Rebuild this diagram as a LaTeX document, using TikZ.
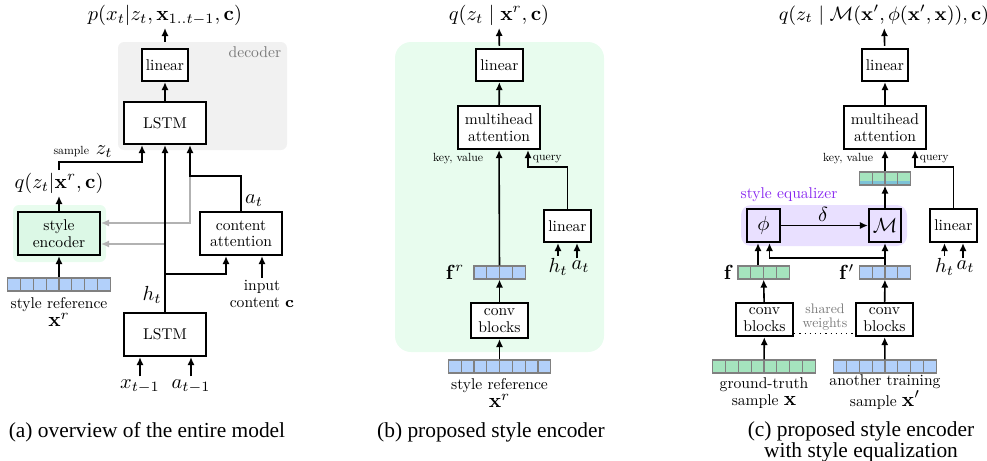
\RequirePackage{fix-cm}
\documentclass[tikz,border=0pt]{standalone}
\usepackage{amsmath,amssymb}
\usepackage[no-math]{fontspec}
\setmainfont{lmroman10-regular}[Extension=.otf, BoldFont=lmroman10-bold, ItalicFont=lmroman10-italic]
\newfontfamily\capfont{Liberation Serif}
\usetikzlibrary{arrows.meta}
\usetikzlibrary{calc}

\definecolor{cellblue}{RGB}{178,208,250}
\definecolor{cellgreen}{RGB}{165,228,190}
\definecolor{stripe}{RGB}{125,195,215}
\definecolor{cellgray}{RGB}{128,128,128}
\definecolor{decgray}{RGB}{241,241,241}
\definecolor{dectext}{RGB}{120,120,120}
\definecolor{encgreen}{RGB}{232,252,238}
\definecolor{encbox}{RGB}{220,248,230}
\definecolor{eqpurple}{RGB}{233,224,255}
\definecolor{eqtext}{RGB}{136,40,240}
\definecolor{arrgray}{RGB}{178,178,178}

\newcommand{\txtsz}{\fontsize{7.8}{8.2}\selectfont}
\newcommand{\mathsz}{\fontsize{10.2}{11}\selectfont}
\newcommand{\smallsz}{\fontsize{5.9}{7}\selectfont}
\newcommand{\cellrules}[1]{\foreach \k in {1,...,#1}{\draw[cellgray, line width=0.6pt]
  ([xshift=\k*6.4pt]path picture bounding box.south west) --
  ([xshift=\k*6.4pt]path picture bounding box.north west);}}

\begin{document}
\begin{tikzpicture}[x=0.5pt, y=-0.5pt, >={Latex[length=4pt,width=3.6pt]}, line width=0.8pt,
    block/.style={draw, line width=1.1pt, fill=white, align=center, inner sep=0pt, font=\txtsz},
    lbl/.style={inner sep=1pt, font=\mathsz},
    txt/.style={inner sep=1pt, align=center, font=\txtsz},
    note/.style={inner sep=1pt, font=\smallsz},
    vec/.style={draw=cellgray, line width=0.6pt, inner sep=0pt, minimum height=6.5pt,
                minimum width=#1*6.4pt, path picture={\cellrules{#1}}},
    garr/.style={->, draw=arrgray, line width=0.7pt},
    captext/.style={align=center, font=\capfont\fontsize{10.7}{9.6}\selectfont}]
\useasboundingbox (0,0) rectangle (987,461);

% (a) overview of the whole model
\fill[decgray, rounded corners=3pt] (118,42) rectangle (287,150);
\fill[encgreen, rounded corners=3pt] (13,205) rectangle (106,262);
\node[txt, text=dectext, anchor=east] (decA) at (284,52) {decoder};

\node[block, minimum width=23pt, minimum height=16pt] (linA) at (165,65) {linear};
\node[block, minimum width=41pt, minimum height=21pt] (lstmTop) at (165,123) {LSTM};
\node[block, minimum width=41pt, minimum height=21.5pt] (lstmBot) at (165,334.5) {LSTM};
\node[block, fill=encbox, minimum width=41pt, minimum height=21.5pt] (styEnc) at (59,233.5) {style\\encoder};
\node[block, minimum width=41pt, minimum height=21.5pt] (cntAtt) at (241,233.5) {content\\attention};
\node[vec=8, fill=cellblue] (xrA) at (59,284.5) {};

\node[lbl] (pA) at (165,15) {$p(x_t|z_t,\mathbf{x}_{1..t-1},\mathbf{c})$};
\node[lbl] (qA) at (59,183) {$q(z_t|\mathbf{x}^r,\mathbf{c})$};
\node[lbl] (zA) at (83,152) {{\smallsz sample} $z_t$};
\node[lbl] (htA) at (152,295) {$h_t$};
\node[lbl] (atA) at (254,201) {$a_t$};
\node[txt] (cA) at (262,294) {input\\content $\mathbf{c}$};
\node[txt] (refA) at (59,312) {style reference\\{\mathsz$\mathbf{x}^r$}};
\node[lbl] (xtA) at (140,386) {$x_{t-1}$};
\node[lbl] (atmA) at (191,386) {$a_{t-1}$};

\coordinate (jA) at (190,176);
\coordinate (hA) at (165,244);
\coordinate (bA) at (165,274);
\coordinate (zC) at (142,162);

\draw[garr] (jA) |- ([yshift=5.25pt]styEnc.east);
\draw[garr] (hA) -- (styEnc.east |- hA);

\draw[->, shorten <=3pt] (linA) -- (pA);
\draw[->] (lstmTop) -- (linA);
\draw[->] (lstmBot) -- (lstmTop);
\draw[->] (qA) |- (zC) -- (zC |- lstmTop.south);
\draw[->] (styEnc) -- (qA);
\draw[->] (xrA) -- (styEnc);
\draw[->] (cntAtt.north) |- (jA) -- (jA |- lstmTop.south);
\draw[->] (bA) -| ([xshift=-7.5pt]cntAtt.south);
\draw[->] (cA.north) -- (cA.north |- cntAtt.south);
\draw[->] (xtA.north) -- (xtA.north |- lstmBot.south);
\draw[->] (atmA.north) -- (atmA.north |- lstmBot.south);

% (b) style encoder
\fill[encgreen, rounded corners=8pt] (395,42) rectangle (604,352);

\node[block, minimum width=23.5pt, minimum height=16pt] (linB) at (499.5,65) {linear};
\node[block, minimum width=41pt, minimum height=21.5pt] (mhB) at (499,127.5) {multihead\\attention};
\node[block, minimum width=23.5pt, minimum height=16pt] (qlinB) at (567.5,226) {linear};
\node[vec=4, fill=cellblue] (frB) at (499.5,272.5) {};
\node[block, minimum width=28.5pt, minimum height=17.5pt] (convB) at (499.5,320.5) {conv\\blocks};
\node[vec=8, fill=cellblue] (xrB) at (499.5,366.5) {};

\node[lbl] (qB) at (499,15) {$q(z_t\mid\mathbf{x}^r,\mathbf{c})$};
\node[lbl, anchor=east] (frlB) at (467,272) {$\mathbf{f}^r$};
\node[note, anchor=east] (kvB) at (486,159) {key, value};
\node[note, anchor=west] (qyB) at (530,159) {query};
\node[lbl] (htB) at (558,267) {$h_t$};
\node[lbl] (atB) at (580.5,267) {$a_t$};
\node[txt] (refB) at (499.5,393) {style reference\\{\mathsz$\mathbf{x}^r$}};

\coordinate (qcB) at (528,167);

\draw[->, shorten <=1pt] (linB) -- (qB);
\draw[->] (mhB) -- (linB);
\draw[->] (frB) -- (mhB);
\draw[->] (qlinB.north) |- (qcB) -- (qcB |- mhB.south);
\draw[->] (htB.north) -- (htB.north |- qlinB.south);
\draw[->] ([xshift=-1.75pt]atB.north) -- ([xshift=-1.75pt]atB.north |- qlinB.south);
\draw[->] (convB) -- (frB);
\draw[->] (xrB) -- (convB);

% (c) style encoder with equalizer
\fill[eqpurple, rounded corners=5pt] (741,205) rectangle (907,246);
\node[txt, text=eqtext] (eqC) at (789,195) {style equalizer};

\node[block, minimum width=23pt, minimum height=16pt] (linC) at (885,65) {linear};
\node[block, minimum width=41pt, minimum height=21.5pt] (mhC) at (885,127.5) {multihead\\attention};
\node[vec=4, fill=cellgreen, path picture={\fill[stripe] (path picture bounding box.south west)
      rectangle ([yshift=2pt]path picture bounding box.south east); \cellrules{4}}] (mixC) at (885,178.5) {};
\node[block, fill=eqpurple, minimum width=16.5pt, minimum height=16.5pt, font=\mathsz] (phiC) at (763.5,225.5) {$\phi$};
\node[block, fill=eqpurple, minimum width=16pt, minimum height=16.5pt, font=\mathsz] (mC) at (885,225.5) {$\mathcal{M}$};
\node[block, minimum width=23.5pt, minimum height=16.5pt] (qlinC) at (953.5,225.5) {linear};
\node[vec=4, fill=cellgreen] (fC) at (763.5,272.5) {};
\node[vec=4, fill=cellblue] (fpC) at (885,272.5) {};
\node[block, minimum width=28.5pt, minimum height=16.5pt] (cvgC) at (764.5,319.5) {conv\\blocks};
\node[block, minimum width=28.5pt, minimum height=16.5pt] (cvaC) at (884.5,319.5) {conv\\blocks};
\node[vec=8, fill=cellgreen] (gtC) at (764,366.5) {};
\node[vec=8, fill=cellblue] (anC) at (885,366.5) {};

\node[lbl, font=\fontsize{9.7}{11}\selectfont] (qC) at (884,15) {$q(z_t\mid\mathcal{M}(\mathbf{x}',\phi(\mathbf{x}',\mathbf{x})),\mathbf{c})$};
\node[note, anchor=east] (kvC) at (876,159) {key, value};
\node[note, anchor=west] (qyC) at (917,159) {query};
\node[lbl] (dlC) at (823,214) {$\delta$};
\node[lbl, anchor=east] (flC) at (736,272) {$\mathbf{f}$};
\node[lbl, anchor=east] (fplC) at (857,272) {$\mathbf{f}'$};
\node[lbl] (htC) at (944.5,267) {$h_t$};
\node[lbl] (atC) at (965.5,267) {$a_t$};
\node[txt, text=dectext, font=\fontsize{6.9}{6.9}\selectfont] (swC) at (825,317) {shared\\weights};
\node[txt] (gtlC) at (764,393) {ground-truth\\sample {\mathsz$\mathbf{x}$}};
\node[txt] (anlC) at (885,392) {another training\\sample {\mathsz$\mathbf{x}'$}};

\coordinate (qcC) at (915,167);
\coordinate (brC) at (885,258);

\draw[->, shorten <=1pt] (linC) -- (qC);
\draw[->] (mhC) -- (linC);
\draw[->] (mixC) -- (mhC);
\draw[->] (mC) -- (mixC);
\draw[->] (qlinC.north) |- (qcC) -- (qcC |- mhC.south);
\draw[->] (phiC) -- (mC);
\draw[->] (fpC) -- (mC);
\draw[->] ([xshift=-2.75pt]fC.north) -- ([xshift=-2.75pt]fC.north |- phiC.south);
\draw[->] (brC) -| ([xshift=3pt]phiC.south);
\draw[->] (cvgC) -- (fC);
\draw[->] (cvaC) -- (fpC);
\draw[->] (gtC) -- (cvgC);
\draw[->] (anC) -- (cvaC);
\draw[dotted, line width=0.6pt] ([yshift=2pt]cvgC.south east) -- ([yshift=2pt]cvaC.south west);
\draw[->] (htC.north) -- (htC.north |- qlinC.south);
\draw[->] ([xshift=-1.25pt]atC.north) -- ([xshift=-1.25pt]atC.north |- qlinC.south);

% captions
\node[captext] (capA) at (147,432) {(a) overview of the entire model};
\node[captext] (capB) at (491,432) {(b) proposed style encoder};
\node[captext] (capC) at (861,442) {(c) proposed style encoder\\with style equalization};
\end{tikzpicture}
\end{document}
